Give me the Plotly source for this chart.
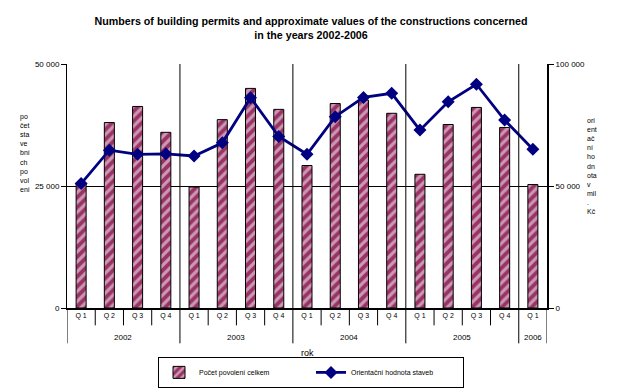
import plotly.graph_objects as go

years = ["2002"] * 4 + ["2003"] * 4 + ["2004"] * 4 + ["2005"] * 4 + ["2006"]
quarters = ["Q 1", "Q 2", "Q 3", "Q 4"] * 4 + ["Q 1"]
permits = [25600, 38000, 41300, 36000, 24800, 38600, 45000, 40700, 29200,
           41900, 42600, 39900, 27400, 37600, 41100, 37000, 25300]
values = [51000, 64700, 63000, 63200, 62300, 67700, 86200, 70300, 63000,
          78400, 86300, 88000, 72900, 84500, 91700, 77000, 65100]

left_ticks = [0, 25000, 50000]
right_ticks = [0, 50000, 100000]

FONT = "Liberation Sans, Arial, sans-serif"
OFF = 8  # page body margin of the browser
W, H = 627 - OFF, 391 - OFF
# plot area in window pixels: x 67..547, y 64..307.7
ML = 67 - OFF
MT = 64 - OFF
MR = W - (547 - OFF)
MB = H - (307.7 - OFF)
PW, PH = W - ML - MR, H - MT - MB
n = len(permits)
xs = list(range(n))


def px_x(px):
    return (px - OFF - ML) / PW


def px_y(py):
    return (H - MB - (py - OFF)) / PH


fig = go.Figure()
fig.add_trace(go.Bar(
    x=xs, y=permits, name="Počet povolení celkem",
    marker=dict(color="#993366", line=dict(color="black", width=1),
                pattern=dict(shape="/", fgcolor="white", bgcolor="#993366",
                             size=7, solidity=0.45)),
    yaxis="y"))
fig.add_trace(go.Scatter(
    x=xs, y=values, name="Orientační hodnota staveb", mode="lines+markers",
    line=dict(color="#000080", width=2.8),
    marker=dict(symbol="diamond", size=10, color="#000080"),
    yaxis="y2"))

shapes = []
bounds = [-0.5] + [i + 0.5 for i in range(n - 1) if years[i] != years[i + 1]] + [n - 0.5]
for b in bounds:
    inner = (b != -0.5 and b != n - 0.5)
    shapes.append(dict(type="line", xref="x", yref="paper", x0=b, x1=b,
                       y0=px_y(343), y1=1 if inner else 0,
                       line=dict(color="black", width=1)))
for i in range(n - 1):
    b = i + 0.5
    if years[i] == years[i + 1]:
        shapes.append(dict(type="line", xref="x", yref="paper", x0=b, x1=b,
                           y0=px_y(325), y1=0, line=dict(color="black", width=1)))

annotations = []
for y in sorted(set(years)):
    idx = [i for i, v in enumerate(years) if v == y]
    annotations.append(dict(x=(idx[0] + idx[-1]) / 2, y=px_y(337), xref="x", yref="paper",
                            text=y, showarrow=False,
                            font=dict(size=8, family=FONT, color="#000000"),
                            yanchor="middle"))
annotations.append(dict(x=px_x(307), y=px_y(353), xref="paper", yref="paper", text="rok",
                        showarrow=False, font=dict(size=9, family=FONT, color="#000000"),
                        yanchor="middle"))
annotations.append(dict(x=px_x(18), y=px_y(153), xref="paper", yref="paper",
                        xanchor="left", yanchor="middle", align="left",
                        text="po<br>čet<br>sta<br>ve<br>bní<br>ch<br>po<br>vol<br>ení",
                        showarrow=False, font=dict(size=7, family=FONT, color="#000000")))
annotations.append(dict(x=px_x(585), y=px_y(166), xref="paper", yref="paper",
                        xanchor="left", yanchor="middle", align="left",
                        text="ori<br>ent<br>ač<br>ní<br>ho<br>dn<br>ota<br>v<br>mil<br>.<br>Kč",
                        showarrow=False, font=dict(size=7, family=FONT, color="#000000")))

fig.update_layout(
    width=W, height=H,
    margin=dict(l=ML, r=MR, t=MT, b=MB, autoexpand=False),
    paper_bgcolor="white", plot_bgcolor="white",
    separators=", ",
    font=dict(family=FONT, size=8, color="#000000"),
    title=dict(text="<b>Numbers of building permits and approximate values of the constructions concerned<br>in the years 2002-2006</b>",
               x=(311 - OFF) / W, xanchor="center", y=1 - (25 - OFF) / H, yanchor="middle",
               font=dict(size=10.7, family=FONT)),
    bargap=0.645,
    showlegend=True,
    xaxis=dict(range=[-0.5, n - 0.5], tickvals=xs, ticktext=quarters, ticks="",
               showgrid=False, zeroline=False, showline=True, linecolor="black",
               linewidth=2, tickfont=dict(size=7)),
    yaxis=dict(range=[0, 50000], tickvals=left_ticks, tickformat=",d",
               showgrid=True, gridcolor="black", gridwidth=1, zeroline=False,
               showline=True, linecolor="black", linewidth=1,
               ticks="outside", ticklen=5, tickcolor="black", tickfont=dict(size=8)),
    yaxis2=dict(range=[0, 100000], tickvals=right_ticks, tickformat=",d",
                overlaying="y", side="right", showgrid=False, zeroline=False,
                showline=True, linecolor="black", linewidth=2,
                ticks="outside", ticklen=5, tickcolor="black", tickfont=dict(size=8)),
    legend=dict(orientation="h", x=px_x(311), xanchor="center", y=px_y(372), yanchor="middle",
                bordercolor="black", borderwidth=1, font=dict(size=7, family=FONT),
                entrywidth=107, itemwidth=30),
    shapes=shapes,
    annotations=annotations,
)
fig.write_html("out.html")
